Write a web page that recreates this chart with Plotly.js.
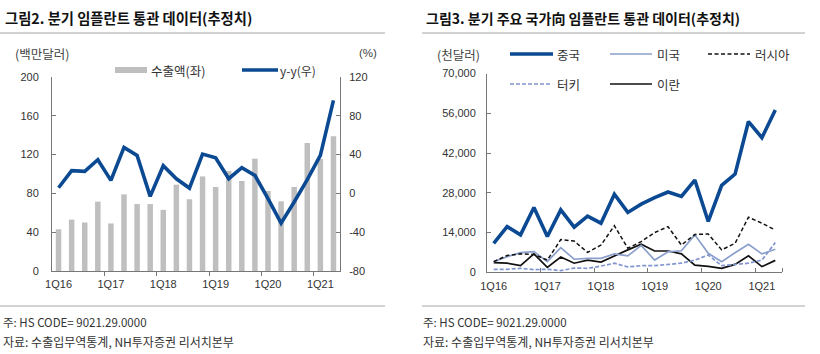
<!DOCTYPE html>
<html>
<head>
<meta charset="utf-8">
<script src="https://cdn.plot.ly/plotly-3.0.1.min.js"></script>
<style>html,body{margin:0;padding:0;background:#fff;}#chart{width:820px;height:354px;}</style>
</head>
<body>
<div id="chart"></div>
<script>
// ---- Data ----
const quarters = ['1Q16','2Q16','3Q16','4Q16','1Q17','2Q17','3Q17','4Q17','1Q18','2Q18','3Q18','4Q18',
                  '1Q19','2Q19','3Q19','4Q19','1Q20','2Q20','3Q20','4Q20','1Q21','2Q21'];
// Figure 2: quarterly implant exports (USD mn) and y-y (%)
const exportValue = [43,53,50,71.5,49,79,69,69,63,89,74,97.5,86.6,103,92.8,115.8,82.5,71.8,86.6,132,115.5,139];
const exportYoY = [5.8,23.4,22.7,34.7,13.4,47.4,39.2,-3.1,28.5,15.1,5.5,40.5,36.8,15.1,26.5,18.6,-5.5,-30.6,-8.9,14.1,39.2,95.9];
const yoyTicks = [-80,-40,0,40,80,120];
// Figure 3: exports by country (USD thousand)
const china  = [10200,16100,13200,22800,12600,22000,15900,19800,17300,27500,21100,24000,26300,28300,26700,32500,17900,30600,34600,53100,47400,57200];
const usa    = [3760,5500,6900,7300,3760,8700,4600,4900,4900,6500,5800,9500,4300,7200,7600,13200,6700,3760,6900,9900,6500,8100];
const russia = [3760,5900,6500,6300,4300,11500,11000,7000,9600,16400,8500,10800,14000,16100,9600,13300,13500,7900,10200,19400,17300,14900];
const turkey = [1060,1060,1400,940,1060,590,1500,1400,2200,3200,1900,2350,2350,2900,3200,4300,6100,2350,2900,3200,4300,10500];
const iran   = [3400,3200,2350,6500,1760,5400,3200,4300,3600,5800,7900,9900,7500,7500,6500,2500,2100,1400,2800,5800,2000,4200];

const xIdx = quarters.map((q, i) => i);
const tickVals = xIdx.filter(i => quarters[i].startsWith('1Q'));
const tickText = tickVals.map(i => quarters[i]);
const boundaryVals = tickVals.filter(v => v > 0).map(v => v - 0.5);

const NAVY = '#0B4A93';
const FONT = 'Liberation Sans, Arial, sans-serif';
const KFONT = '"Noto Sans CJK KR", "Noto Sans", sans-serif';

const traces = [
  {type:'bar', x:xIdx, y:exportValue, xaxis:'x', yaxis:'y', marker:{color:'#BFBFBF'}, width:0.42, showlegend:false, hoverinfo:'skip'},
  {type:'scatter', mode:'lines', x:xIdx, y:exportYoY, xaxis:'x', yaxis:'y2', line:{color:NAVY, width:3.6}, showlegend:false},
  {type:'scatter', mode:'lines', x:xIdx, y:iran, xaxis:'x3', yaxis:'y3', line:{color:'#111', width:1.7}, showlegend:false},
  {type:'scatter', mode:'lines', x:xIdx, y:turkey, xaxis:'x3', yaxis:'y3', line:{color:'#8196CF', width:1.7, dash:'4px,2px'}, showlegend:false},
  {type:'scatter', mode:'lines', x:xIdx, y:usa, xaxis:'x3', yaxis:'y3', line:{color:'#8A9FCB', width:1.7}, showlegend:false},
  {type:'scatter', mode:'lines', x:xIdx, y:russia, xaxis:'x3', yaxis:'y3', line:{color:'#111', width:1.5, dash:'4px,2.5px'}, showlegend:false},
  {type:'scatter', mode:'lines', x:xIdx, y:china, xaxis:'x3', yaxis:'y3', line:{color:NAVY, width:3.6}, showlegend:false}
];

const axisCommon = {showgrid:false, zeroline:false, showline:true, linecolor:'#777', linewidth:1,
  tickfont:{family:FONT, size:11, color:'#333'}, fixedrange:true};

const W = 820, H = 354;
const px = v => v / W;
const py = v => 1 - v / H;

const layout = {
  width:W, height:H, margin:{l:0, r:0, t:0, b:0}, paper_bgcolor:'#fff', plot_bgcolor:'rgba(0,0,0,0)',
  barmode:'overlay',
  xaxis: Object.assign({}, axisCommon, {domain:[px(52), px(340)], anchor:'y', range:[-0.5, quarters.length - 0.5],
    tickmode:'array', tickvals:tickVals, ticktext:tickText, ticks:'', ticklabelstandoff:3,
    minor:{tickmode:'array', tickvals:boundaryVals, ticks:'outside', ticklen:4, tickcolor:'#777'}}),
  yaxis: Object.assign({}, axisCommon, {domain:[py(271), py(77)], anchor:'x', range:[0, 200], dtick:40,
    ticks:'inside', ticklen:4, tickcolor:'#777', ticklabelstandoff:10}),
  yaxis2: Object.assign({}, axisCommon, {domain:[py(271), py(77)], anchor:'x', overlaying:'y', side:'right', range:[-80, 120],
    tickmode:'array', tickvals:yoyTicks, ticktext:yoyTicks.map(String),
    ticks:'inside', ticklen:4, tickcolor:'#777', ticklabelstandoff:6}),
  xaxis3: Object.assign({}, axisCommon, {domain:[px(487), px(782)], anchor:'y3', range:[-0.5, quarters.length - 0.5],
    tickmode:'array', tickvals:tickVals, ticktext:tickText, ticks:'', ticklabelstandoff:3,
    minor:{tickmode:'array', tickvals:boundaryVals.concat([quarters.length - 0.5]), ticks:'inside', ticklen:4, tickcolor:'#777'}}),
  yaxis3: Object.assign({}, axisCommon, {domain:[py(272.3), py(73.6)], anchor:'x3', range:[0, 70000], dtick:14000,
    tickformat:',d', ticks:'inside', ticklen:4, tickcolor:'#777', ticklabelstandoff:8}),
  shapes: [
    {type:'line', xref:'paper', yref:'paper', x0:px(0), x1:px(385), y0:py(33), y1:py(33), line:{color:'#A6A6A6', width:1}},
    {type:'line', xref:'paper', yref:'paper', x0:px(422), x1:px(805), y0:py(33), y1:py(33), line:{color:'#A6A6A6', width:1}},
    {type:'line', xref:'paper', yref:'paper', x0:px(0), x1:px(385), y0:py(306), y1:py(306), line:{color:'#A6A6A6', width:1}},
    {type:'line', xref:'paper', yref:'paper', x0:px(422), x1:px(805), y0:py(306), y1:py(306), line:{color:'#A6A6A6', width:1}},
    // legend swatches (figure 2)
    {type:'rect', xref:'paper', yref:'paper', x0:px(115), x1:px(147), y0:py(67), y1:py(73), fillcolor:'#BFBFBF', line:{width:0}},
    {type:'line', xref:'paper', yref:'paper', x0:px(242), x1:px(278), y0:py(70), y1:py(70), line:{color:NAVY, width:3.6}},
    // legend swatches (figure 3)
    {type:'line', xref:'paper', yref:'paper', x0:px(510), x1:px(553), y0:py(54), y1:py(54), line:{color:NAVY, width:3.6}},
    {type:'line', xref:'paper', yref:'paper', x0:px(610), x1:px(652), y0:py(54), y1:py(54), line:{color:'#8A9FCB', width:1.7}},
    {type:'line', xref:'paper', yref:'paper', x0:px(708), x1:px(750), y0:py(54), y1:py(54), line:{color:'#111', width:1.5, dash:'4px,2.5px'}},
    {type:'line', xref:'paper', yref:'paper', x0:px(510), x1:px(552), y0:py(84), y1:py(84), line:{color:'#8196CF', width:1.7, dash:'4px,2px'}},
    {type:'line', xref:'paper', yref:'paper', x0:px(610), x1:px(652), y0:py(84), y1:py(84), line:{color:'#111', width:1.7}}
  ],
  annotations: []
};

function txt(text, x, y, opts) {
  layout.annotations.push(Object.assign({text:text, xref:'paper', yref:'paper', x:px(x), y:py(y),
    xanchor:'left', yanchor:'middle', showarrow:false,
    font:{family:KFONT, size:12.5, color:'#333'}}, opts || {}));
}
txt('<b>그림2. 분기 임플란트 통관 데이터(추정치)</b>', 3, 18, {font:{family:KFONT, size:14.3, color:'#111'}});
txt('<b>그림3. 분기 주요 국가向 임플란트 통관 데이터(추정치)</b>', 424, 18, {font:{family:KFONT, size:14, color:'#111'}});
txt('(백만달러)', 13, 53, {font:{family:KFONT, size:12.5, color:'#444'}});
txt('(%)', 357, 53, {font:{family:FONT, size:11.5, color:'#444'}});
txt('(천달러)', 435, 54, {font:{family:KFONT, size:12.5, color:'#444'}});
txt('수출액(좌)', 149, 70);
txt('y-y(우)', 278, 70, {font:{family:KFONT, size:12, color:'#333'}});
txt('중국', 555, 54);
txt('미국', 655, 54);
txt('러시아', 753, 54);
txt('터키', 555, 84);
txt('이란', 655, 84);
txt('주: HS CODE= 9021.29.0000', 1, 322, {font:{family:KFONT, size:11.5, color:'#333'}});
txt('자료: 수출입무역통계, NH투자증권 리서치본부', 1, 341, {font:{family:KFONT, size:12, color:'#333'}});
txt('주: HS CODE= 9021.29.0000', 421, 322, {font:{family:KFONT, size:11.5, color:'#333'}});
txt('자료: 수출입무역통계, NH투자증권 리서치본부', 421, 341, {font:{family:KFONT, size:12, color:'#333'}});

Plotly.newPlot('chart', traces, layout, {displayModeBar:false, staticPlot:true});
</script>
</body>
</html>
